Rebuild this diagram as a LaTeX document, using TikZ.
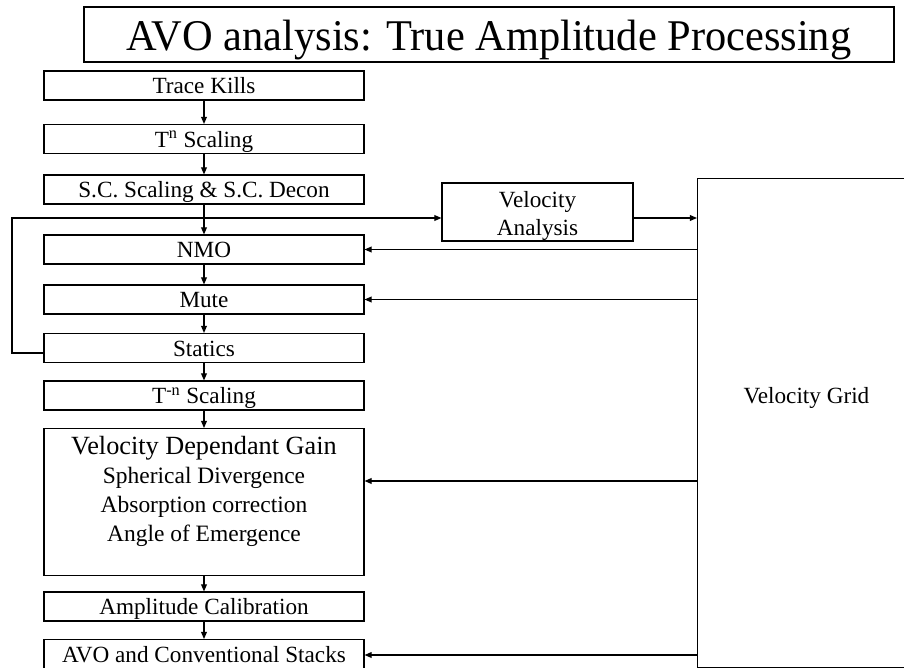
\documentclass[tikz,border=0pt]{standalone}
\usepackage{fontspec}
\setmainfont{Liberation Serif}
\usetikzlibrary{arrows.meta}

\tikzset{
  stepbox/.style={draw, line width=0.8pt, rectangle, inner sep=0pt,
    minimum width=240pt, minimum height=21.75pt, align=center,
    text height=14pt, text depth=2pt,
    font=\fontsize{17.4pt}{21pt}\selectfont},
  frame/.style={draw, line width=0.8pt, rectangle, inner sep=0pt},
  boxtext/.style={inner sep=0pt, align=center, font=\fontsize{17.4pt}{21pt}\selectfont},
  arr/.style={line width=0.9pt, -{Triangle[length=5.4pt,width=4.4pt]}},
}

\begin{document}
\begin{tikzpicture}[x=0.75pt,y=-0.75pt]
  \useasboundingbox (0,0) rectangle (904,668);

  % title
  \node[frame, minimum width=607.5pt, minimum height=41.25pt,
        text height=26pt, text depth=2.75pt,
        font=\fontsize{32.9pt}{36pt}\selectfont] (title) at (489,34.5)
        {\scalebox{0.967}[1]{AVO analysis: True Amplitude Processing}};

  % processing chain
  \node[stepbox] (kills)   at (204,85.5)  {Trace Kills};
  \node[stepbox] (tn)      at (204,139)   {T\textsuperscript{n} Scaling};
  \node[stepbox] (sc)      at (204,189.5) {S.C. Scaling \& S.C. Decon};
  \node[stepbox] (nmo)     at (204,249.5) {NMO};
  \node[stepbox] (mute)    at (204,299.5) {Mute};
  \node[stepbox] (statics) at (204,348)   {Statics};
  \node[stepbox] (tmn)     at (204,395.5) {T\textsuperscript{-n} Scaling};
  \node[frame, minimum width=240pt, minimum height=110.25pt, anchor=north] (vdg) at (204,428) {};
  \node[boxtext, anchor=north, font=\fontsize{17.6pt}{21.75pt}\selectfont] (vdgtext) at (204,436)
        {{\fontsize{19.7pt}{21.75pt}\selectfont Velocity Dependant Gain}\\
         Spherical Divergence\\ Absorption correction\\ Angle of Emergence};
  \node[stepbox] (amp)     at (204,606.5) {Amplitude Calibration};
  \node[stepbox, anchor=north] (avo) at (204,639) {AVO and Conventional Stacks};

  % velocity analysis and grid
  \node[frame, minimum width=143.25pt, minimum height=43.5pt] (va) at (537.5,212) {};
  \node[boxtext, anchor=north] (vatext) at (537.5,191) {Velocity\\Analysis};
  \node[frame, minimum width=200pt, minimum height=366.75pt, anchor=north west] (grid) at (697,178) {};
  \node[boxtext, anchor=base] (gridlabel) at (806.5,403.5) {Velocity Grid};

  % main flow
  \draw[arr] (kills.south) -- (tn.north);
  \draw[arr] (tn.south) -- (sc.north);
  \draw[arr] (sc.south) -- (nmo.north);
  \draw[arr] (nmo.south) -- (mute.north);
  \draw[arr] (mute.south) -- (statics.north);
  \draw[arr] (statics.south) -- (tmn.north);
  \draw[arr] (tmn.south) -- (vdg.north);
  \draw[arr] (vdg.south) -- (amp.north);
  \draw[arr] (amp.south) -- (avo.north);

  % loop back from statics to velocity analysis
  \coordinate (loopstart) at (44,353);
  \coordinate (loop) at (12,218);
  \draw[arr] (statics.west |- loopstart) -| (loop) -- (va.west |- loop);
  \draw[arr] (va.east |- loop) -- (grid.west |- loop);

  % velocities fed back from the grid
  \coordinate (vdgin) at (364,481);
  \coordinate (avoin) at (364,655);
  \draw[arr] (grid.west |- nmo) -- (nmo.east);
  \draw[arr] (grid.west |- mute) -- (mute.east);
  \draw[arr] (grid.west |- vdgin) -- (vdg.east |- vdgin);
  \draw[arr] (grid.west |- avoin) -- (avo.east |- avoin);
\end{tikzpicture}
\end{document}
